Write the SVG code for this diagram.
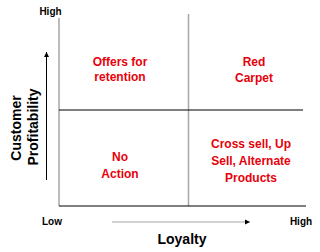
<svg xmlns="http://www.w3.org/2000/svg" width="320" height="252" viewBox="0 0 320 252">
<style>
text{font-family:"Liberation Sans",Arial,sans-serif;font-weight:bold}
.q{fill:#e8000b;font-size:12px;text-anchor:middle}
.ax{font-size:14px;fill:#000}
.sm{font-size:10px;fill:#000}
</style>
<defs>
<marker id="ah" markerWidth="6" markerHeight="6" refX="5" refY="3" orient="auto" markerUnits="userSpaceOnUse">
<path d="M0,0.5 L5,3 L0,5.5 Z" fill="#000"/>
</marker>
</defs>
<rect width="320" height="252" fill="#fff"/>
<g id="connectors">
<line x1="59" y1="18" x2="59" y2="206" stroke="#a6a6a6" stroke-width="1.5"/>
<line x1="188.5" y1="14" x2="188.5" y2="206" stroke="#a6a6a6" stroke-width="1.5"/>
<line x1="59" y1="110" x2="303" y2="110" stroke="#000" stroke-width="1.2"/>
<line x1="59" y1="206" x2="306" y2="206" stroke="#000" stroke-width="1.2"/>
<line x1="46.5" y1="180" x2="46.5" y2="52" stroke="#000" stroke-width="1" marker-end="url(#ah)"/>
<line x1="112" y1="222" x2="250" y2="222" stroke="#a6a6a6" stroke-width="1.2" marker-end="url(#ah)"/>
</g>
<g id="q1"><text class="q" x="120" y="66">Offers for</text><text class="q" x="120" y="81">retention</text></g>
<g id="q2"><text class="q" x="254" y="66">Red</text><text class="q" x="254" y="82">Carpet</text></g>
<g id="q3"><text class="q" x="120" y="161">No</text><text class="q" x="120" y="178">Action</text></g>
<g id="q4"><text class="q" x="251" y="148">Cross sell, Up</text><text class="q" x="251" y="165">Sell, Alternate</text><text class="q" x="251" y="182">Products</text></g>
<g id="labels">
<text class="sm" x="50.5" y="15" text-anchor="middle">High</text>
<text class="sm" x="52" y="225" text-anchor="middle">Low</text>
<text class="sm" x="301" y="225" text-anchor="middle">High</text>
<text class="ax" x="182" y="244" text-anchor="middle">Loyalty</text>
<text class="ax" transform="translate(21,128) rotate(-90)" text-anchor="middle">Customer</text>
<text class="ax" transform="translate(38,127) rotate(-90)" text-anchor="middle">Profitability</text>
</g>
</svg>
